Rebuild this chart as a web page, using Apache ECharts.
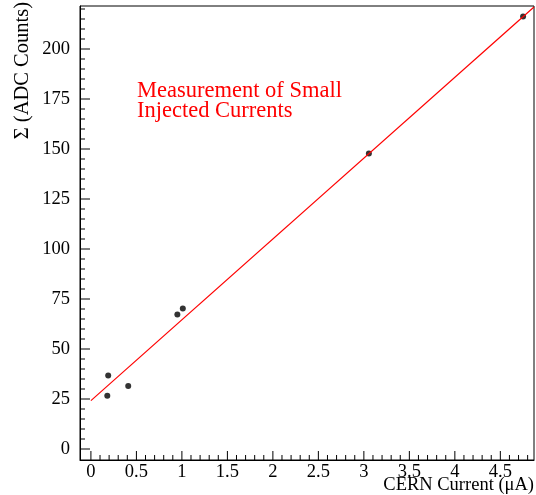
<!DOCTYPE html>
<html>
<head>
<meta charset="utf-8">
<script src="https://cdn.jsdelivr.net/npm/echarts@6/dist/echarts.min.js"></script>
<style>html,body{margin:0;padding:0;background:#fff}#c{width:536px;height:495px}</style>
</head>
<body>
<div id="c"></div>
<script>
var currentX = [0.18, 0.19, 0.41, 0.95, 1.01, 3.055, 4.75];
var adcY = [26.6, 36.8, 31.5, 67.2, 70.2, 147.8, 216.2];
var fitLine = [[0, 24.2], [4.87, 221.0]];
var xTickLabels = [0, 0.5, 1, 1.5, 2, 2.5, 3, 3.5, 4, 4.5];
var yTickLabels = [0, 25, 50, 75, 100, 125, 150, 175, 200];

var FONT = 'Liberation Serif';
var XMIN = -0.12, XMAX = 4.87, YMIN = -5.5, YMAX = 221.5;

// tick marks: [value, isMajor]
var xTicks = [], yTicks = [];
for (var i = 0; i <= 48; i++) xTicks.push([+(i * 0.1).toFixed(2), i % 5 === 0 ? 1 : 0]);
for (var j = 0; j <= 44; j++) yTicks.push([j * 5, j % 5 === 0 ? 1 : 0]);

var chart = echarts.init(document.getElementById('c'));
var pts = currentX.map(function (x, k) { return [x, adcY[k]]; });

chart.setOption({
  animation: false,
  grid: {left: 80, right: 2, top: 6, bottom: 35, show: true, borderColor: '#000', borderWidth: 1},
  xAxis: {
    type: 'value', min: XMIN, max: XMAX,
    axisLine: {show: true, onZero: false, lineStyle: {color: '#000'}},
    axisTick: {show: false},
    axisLabel: {show: true, customValues: xTickLabels, margin: 3, color: '#000', fontFamily: FONT, fontSize: 18.5},
    splitLine: {show: false}
  },
  yAxis: {
    type: 'value', min: YMIN, max: YMAX,
    axisLine: {show: true, onZero: false, lineStyle: {color: '#000'}},
    axisTick: {show: false},
    axisLabel: {show: true, customValues: yTickLabels, margin: 10, color: '#000', fontFamily: FONT, fontSize: 18.5},
    splitLine: {show: false}
  },
  series: [{
    type: 'line', data: fitLine,
    showSymbol: false, symbol: 'none', lineStyle: {color: '#ff0000', width: 1.2}
  }, {
    type: 'scatter', data: pts,
    symbol: 'circle', symbolSize: 6, itemStyle: {color: '#000'}
  }]
});

// tick marks placed through the chart's own axis scales
var tickEls = [];
xTicks.forEach(function (t) {
  var p = chart.convertToPixel({gridIndex: 0}, [t[0], YMIN]);
  var len = t[1] ? 9 : 5;
  tickEls.push({type: 'line', z: 100, silent: true,
    shape: {x1: p[0], y1: p[1], x2: p[0], y2: p[1] - len},
    style: {stroke: '#000', lineWidth: 1}});
});
yTicks.forEach(function (t) {
  var p = chart.convertToPixel({gridIndex: 0}, [XMIN, t[0]]);
  var len = t[1] ? 10 : 5;
  tickEls.push({type: 'line', z: 100, silent: true,
    shape: {x1: p[0], y1: p[1], x2: p[0] + len, y2: p[1]},
    style: {stroke: '#000', lineWidth: 1}});
});

chart.setOption({
  graphic: tickEls.concat([{
    type: 'text', left: 137, top: 80,
    style: {text: 'Measurement of Small\nInjected Currents', fill: '#ff0000', font: '22.5px "Liberation Serif"', lineHeight: 20}
  }, {
    type: 'text', x: 23, y: 2, rotation: Math.PI / 2,
    style: {text: 'Σ (ADC Counts)', fill: '#000', font: '20.5px "Liberation Serif"', align: 'right', verticalAlign: 'middle'}
  }, {
    type: 'text', x: 534, y: 495,
    style: {text: 'CERN Current (μA)', fill: '#000', font: '18.5px "Liberation Serif"', align: 'right', verticalAlign: 'bottom'}
  }])
});
</script>
</body>
</html>
